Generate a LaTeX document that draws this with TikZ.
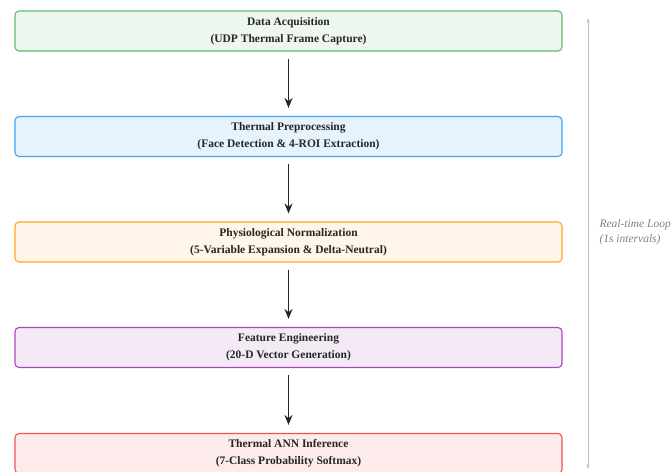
\documentclass[tikz,border=0pt]{standalone}
\usepackage{fontspec}
\setmainfont{Liberation Serif}
\usetikzlibrary{arrows.meta,positioning}
\definecolor{acqline}{HTML}{66BB6A}\definecolor{acqfill}{HTML}{EDF7EE}
\definecolor{preline}{HTML}{42A5F5}\definecolor{prefill}{HTML}{E6F2FC}
\definecolor{normline}{HTML}{FFA726}\definecolor{normfill}{HTML}{FFF5E8}
\definecolor{featline}{HTML}{AB47BC}\definecolor{featfill}{HTML}{F4EAF6}
\definecolor{annline}{HTML}{EF5350}\definecolor{annfill}{HTML}{FDEBEB}
\definecolor{loopgray}{HTML}{BDBDBD}
\begin{document}
\begin{tikzpicture}[x=1pt,y=-1pt,
  stage/.style={draw,line width=1.1pt,rounded corners=4pt,minimum width=547pt,
    minimum height=40pt,align=center,font=\bfseries\fontsize{11.5}{17}\selectfont,
    text=black!85},
  flow/.style={-{Stealth[length=10pt,width=8pt]},line width=1.6pt,black!85,
    shorten <=7pt,shorten >=8pt}]
\useasboundingbox (0,0) rectangle (671,471);
\clip (0,0) rectangle (671,471);
\node[stage,draw=acqline,fill=acqfill] (acq) at (288.5,31) {Data Acquisition\\(UDP Thermal Frame Capture)};
\node[stage,draw=preline,fill=prefill] (pre) at (288.5,136.5) {Thermal Preprocessing\\(Face Detection \& 4-ROI Extraction)};
\node[stage,draw=normline,fill=normfill] (norm) at (288.5,242) {Physiological Normalization\\(5-Variable Expansion \& Delta-Neutral)};
\node[stage,draw=featline,fill=featfill] (feat) at (288.5,347.5) {Feature Engineering\\(20-D Vector Generation)};
\node[stage,draw=annline,fill=annfill] (ann) at (288.5,453.5) {Thermal ANN Inference\\(7-Class Probability Softmax)};
\draw[flow] (acq) -- (pre);
\draw[flow] (pre) -- (norm);
\draw[flow] (norm) -- (feat);
\draw[flow] (feat) -- (ann);
% loop marker on the right
\coordinate (looptop) at (588,18);
\coordinate (loopbot) at (588,469);
\draw[{Stealth[length=5pt,width=3pt]}-{Stealth[length=5pt,width=3pt]},loopgray,line width=0.7pt] (looptop) -- (loopbot);
\node[anchor=west,align=left,text=black!50,font=\itshape\fontsize{11.5}{15}\selectfont] (looplabel) at (596,232) {Real-time Loop\\(1s intervals)};
\end{tikzpicture}
\end{document}
